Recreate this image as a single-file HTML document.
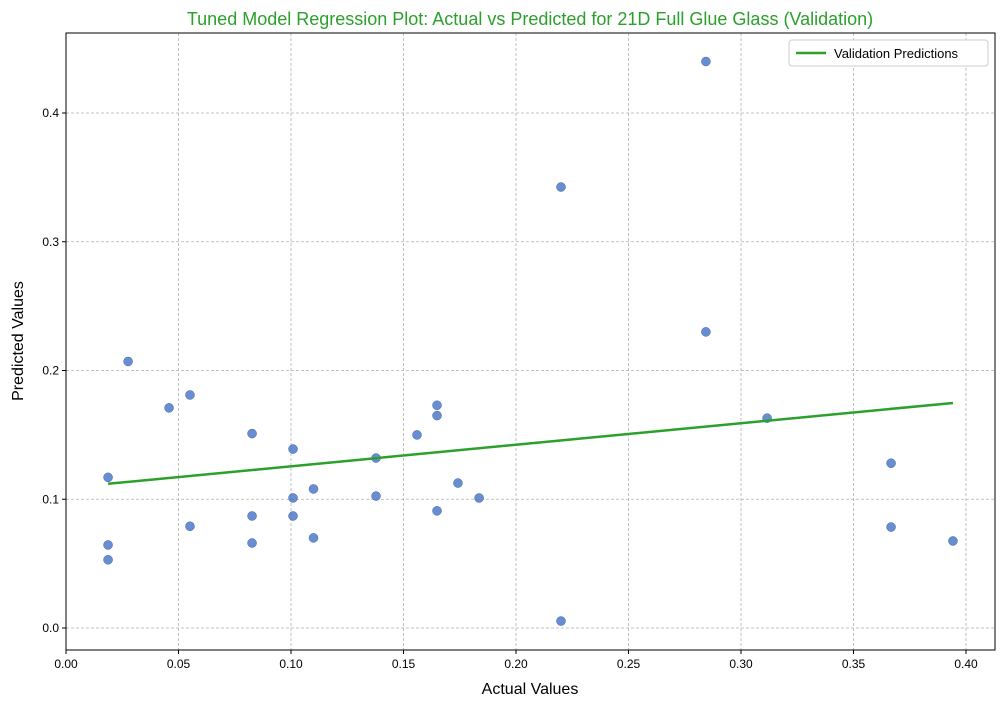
<!DOCTYPE html>
<html><head><meta charset="utf-8"><style>
body{margin:0;background:#fff;font-family:"Liberation Sans","DejaVu Sans",sans-serif;}
svg text{font-family:"Liberation Sans","DejaVu Sans",sans-serif;}
</style></head><body>
<svg id="chart" width="1005" height="706">
<text x="530" y="25" text-anchor="middle" font-size="18" fill="#2ca02c">Tuned Model Regression Plot: Actual vs Predicted for 21D Full Glue Glass (Validation)</text>
<g id="grid"></g><g id="axes"></g><g id="marks"></g>
<text x="530" y="694" text-anchor="middle" font-size="16">Actual Values</text>
<text transform="translate(23,341) rotate(-90)" text-anchor="middle" font-size="16">Predicted Values</text>
<g>
<rect x="789" y="40" width="199" height="26" rx="3" fill="#fff" stroke="#ccc"/>
<line x1="796" y1="53" x2="826" y2="53" stroke="#2ca02c" stroke-width="2.5"/>
<text x="834" y="58" font-size="13">Validation Predictions</text>
</g>
</svg>
<script>
const actual=[0.0187,0.0187,0.0187,0.0276,0.0458,0.0551,0.0551,0.0827,0.0827,0.0827,0.1009,0.1009,0.1009,0.110,0.110,0.1378,0.1378,0.156,0.1649,0.1649,0.1649,0.1742,0.1836,0.22,0.22,0.2844,0.2844,0.3116,0.3667,0.3667,0.3942];
const predicted=[0.117,0.0645,0.053,0.207,0.171,0.181,0.079,0.151,0.087,0.066,0.139,0.101,0.087,0.108,0.070,0.132,0.1025,0.150,0.173,0.165,0.091,0.1126,0.101,0.3425,0.0054,0.440,0.230,0.163,0.128,0.0784,0.0676];
const lineX=[0.0187,0.3942];
const lineY=[0.112,0.1748];
const xTicks=[0,0.05,0.1,0.15,0.2,0.25,0.3,0.35,0.4];
const yTicks=[0,0.1,0.2,0.3,0.4];
const L=66,R=995,T=33,B=650;
const sx=v=>66+v*2250, sy=v=>628-v*1287.5;
const NS="http://www.w3.org/2000/svg";
function mk(p,tag,a){const e=document.createElementNS(NS,tag);for(const k in a)e.setAttribute(k,a[k]);p.appendChild(e);return e;}
const grid=document.getElementById('grid'),axes=document.getElementById('axes'),marks=document.getElementById('marks');
xTicks.forEach(t=>{const x=sx(t);
 const g=mk(grid,'line',{x1:x,x2:x,y1:T,y2:B,stroke:'#b0b0b0','stroke-dasharray':'3,2','stroke-width':0.8});
 
 mk(axes,'line',{x1:x,x2:x,y1:B,y2:B+4,stroke:'#000'});
 const tx=mk(axes,'text',{x:x,y:B+18,'text-anchor':'middle','font-size':12});tx.textContent=t.toFixed(2);
 });
yTicks.forEach(t=>{const y=sy(t);
 const g=mk(grid,'line',{x1:L,x2:R,y1:y,y2:y,stroke:'#b0b0b0','stroke-dasharray':'3,2','stroke-width':0.8});
 
 mk(axes,'line',{x1:L-4,x2:L,y1:y,y2:y,stroke:'#000'});
 const tx=mk(axes,'text',{x:L-7,y:y+4,'text-anchor':'end','font-size':12});tx.textContent=t.toFixed(1);
 });
const fr=mk(axes,'rect',{x:L,y:T,width:R-L,height:B-T,fill:'none',stroke:'#000','stroke-width':1});

actual.forEach((a,i)=>{const c=mk(marks,'circle',{cx:sx(a),cy:sy(predicted[i]),r:4.5,fill:'#4472c4','fill-opacity':0.8,stroke:'#3a62b0','stroke-width':0.5});
 });
const ln=mk(marks,'line',{x1:sx(lineX[0]),y1:sy(lineY[0]),x2:sx(lineX[1]),y2:sy(lineY[1]),stroke:'#2ca02c','stroke-width':2.5});

</script>
</body></html>
